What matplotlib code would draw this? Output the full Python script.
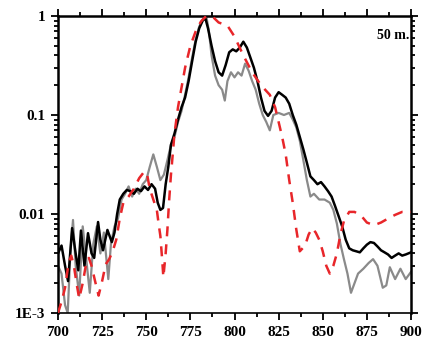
import matplotlib
matplotlib.use("Agg")
import matplotlib.pyplot as plt
from matplotlib.ticker import FixedLocator, FixedFormatter, LogLocator, NullFormatter, MultipleLocator

# ---- data ----
black_x = [700, 702, 704, 705.7, 708, 710, 711.5, 713, 715, 717, 719, 720.5, 722.7, 724, 725.5,
           728, 730.5, 732, 733.5, 735, 737, 739, 741, 743, 745, 747, 749, 751, 753, 755,
           756.5, 758, 759.5, 761, 762.5, 764, 766, 768, 770, 772, 774, 776, 778, 780, 782,
           783.5, 785, 787, 789, 791, 793, 795, 797, 799, 801, 803, 805, 807, 809, 811, 813,
           815, 817, 819, 821, 823, 825, 827, 829, 831, 833, 835, 837, 839, 841, 843, 845,
           847, 849, 851, 853, 855, 857, 859, 861, 863, 865, 867, 869, 871, 873, 875, 877,
           879, 881, 883, 885, 887, 889, 891, 893, 895, 897, 900]
black_y = [0.0040, 0.0048, 0.0030, 0.0021, 0.0072, 0.0040, 0.0027, 0.0068, 0.0030, 0.0064,
           0.0040, 0.0036, 0.0083, 0.0055, 0.0043, 0.0069, 0.0052, 0.0065, 0.0100, 0.0140,
           0.0160, 0.0175, 0.0170, 0.0160, 0.0180, 0.0170, 0.0190, 0.0175, 0.0200, 0.0180,
           0.0130, 0.0110, 0.0115, 0.0200, 0.0300, 0.0500, 0.0650, 0.0900, 0.1200, 0.1500,
           0.2200, 0.3500, 0.5500, 0.7500, 0.9000, 0.9500, 0.7500, 0.5000, 0.3500, 0.2700,
           0.2500, 0.3200, 0.4300, 0.4600, 0.4400, 0.4800, 0.5500, 0.4800, 0.3800, 0.3000,
           0.2200, 0.1500, 0.1100, 0.0980, 0.1100, 0.1500, 0.1700, 0.1600, 0.1500, 0.1300,
           0.1000, 0.0800, 0.0600, 0.0450, 0.0330, 0.0240, 0.0220, 0.0200, 0.0210, 0.0190,
           0.0170, 0.0150, 0.0120, 0.0095, 0.0075, 0.0055, 0.0045, 0.0043, 0.0042, 0.0041,
           0.0045, 0.0049, 0.0052, 0.0051, 0.0047, 0.0043, 0.0041, 0.0039, 0.0036, 0.0038,
           0.0040, 0.0038, 0.0039, 0.0041]

grey_x = [700, 702, 704, 705.5, 707, 708.5, 710, 712, 714, 716, 718, 720, 722, 724, 726,
          728.5, 730, 732, 734, 736, 738, 740, 742, 744, 746, 748, 750, 752, 754, 756, 758,
          760, 762, 764, 766, 768, 770, 772, 774, 776, 778, 780, 782, 784, 785.5, 787, 789,
          791, 793, 794.5, 796, 798, 800, 802, 804, 806, 808, 810, 812, 814, 816, 818, 820,
          822, 825, 828, 831, 833, 835, 837, 839, 841, 843, 845, 848, 851, 854, 856, 858,
          860, 862, 864, 866, 868, 870, 873, 876, 878.5, 881, 884, 886, 888, 891, 894, 897, 900]
grey_y = [0.0030, 0.0025, 0.0012, 0.0010, 0.0040, 0.0087, 0.0030, 0.0015, 0.0075, 0.0035,
          0.0016, 0.0050, 0.0075, 0.0040, 0.0065, 0.0022, 0.0050, 0.0075, 0.0090, 0.0140,
          0.0160, 0.0190, 0.0150, 0.0180, 0.0160, 0.0200, 0.0220, 0.0300, 0.0400, 0.0300,
          0.0220, 0.0250, 0.0350, 0.0500, 0.0600, 0.0850, 0.1100, 0.1600, 0.2400, 0.3800,
          0.5800, 0.7800, 0.9200, 1.0000, 0.7000, 0.4000, 0.2500, 0.2000, 0.1800, 0.1400,
          0.2200, 0.2700, 0.2400, 0.2700, 0.2500, 0.3300, 0.2800, 0.2200, 0.1800, 0.1300,
          0.1000, 0.0850, 0.0700, 0.1000, 0.1050, 0.1000, 0.1050, 0.0900, 0.0750, 0.0550,
          0.0350, 0.0220, 0.0150, 0.0160, 0.0140, 0.0140, 0.0130, 0.0110, 0.0080, 0.0050,
          0.0035, 0.0025, 0.0016, 0.0020, 0.0025, 0.0028, 0.0032, 0.0035, 0.0030, 0.0018,
          0.0019, 0.0029, 0.0022, 0.0028, 0.0022, 0.0026]

red_x = [700, 702, 704, 706, 707.5, 709, 710.5, 712, 714, 716, 717.5, 719, 721, 723, 725,
         727, 729, 731, 733, 735, 737, 740, 743, 746, 749, 750.5, 752, 754, 756, 757, 758,
         759, 759.7, 761, 762, 763, 764, 765, 766, 768, 770, 772, 775, 778, 781, 784, 788,
         791, 796, 800, 805, 810, 815, 820, 823, 825, 827, 829, 831, 833, 835, 837, 840,
         842, 844, 846, 848, 850, 852, 854, 856, 858, 860, 862, 865, 868, 872, 875, 879,
         883, 887, 891, 895, 900]
red_y = [0.0010, 0.0013, 0.0018, 0.0032, 0.0038, 0.0030, 0.0020, 0.0014, 0.0020, 0.0032,
         0.0036, 0.0030, 0.0021, 0.0015, 0.0021, 0.0031, 0.0035, 0.0042, 0.0055, 0.0090,
         0.0130, 0.0150, 0.0180, 0.0230, 0.0270, 0.0250, 0.0180, 0.0140, 0.0110, 0.0080,
         0.0060, 0.0035, 0.0023, 0.0040, 0.0070, 0.0140, 0.0250, 0.0400, 0.0650, 0.1200,
         0.1900, 0.3000, 0.5000, 0.7000, 0.8800, 1.0000, 0.9700, 0.8600, 0.8000, 0.6200,
         0.4000, 0.2700, 0.2000, 0.1600, 0.1200, 0.0850, 0.0600, 0.0400, 0.0220, 0.0130,
         0.0070, 0.0042, 0.0048, 0.0062, 0.0072, 0.0065, 0.0055, 0.0042, 0.0030, 0.0025,
         0.0030, 0.0040, 0.0062, 0.0085, 0.0105, 0.0105, 0.0095, 0.0082, 0.0077, 0.0082,
         0.0090, 0.0098, 0.0105, 0.0105]

x_ticks = [700, 725, 750, 775, 800, 825, 850, 875, 900]
y_ticks = [0.001, 0.01, 0.1, 1]
y_tick_labels = ["1E-3", "0.01", "0.1", "1"]
annotation = "50 m."

# ---- figure ----
W, H = 424, 341
fig = plt.figure(figsize=(W / 100, H / 100), dpi=100)
ax = fig.add_axes([58 / W, 1 - 313 / H, (411 - 58) / W, (313 - 16) / H])

serif = ["Liberation Serif", "DejaVu Serif"]

ax.plot(grey_x, grey_y, color="#8a8a8a", lw=1.6, zorder=2)
ax.plot(black_x, black_y, color="black", lw=1.8, zorder=3)
ax.plot(red_x, red_y, color="#e8262a", lw=1.8, ls=(0, (4, 3.2)), zorder=4)

ax.set_yscale("log")
ax.set_xlim(700, 900)
ax.set_ylim(0.001, 1)

ax.xaxis.set_major_locator(FixedLocator(x_ticks))
ax.xaxis.set_minor_locator(MultipleLocator(12.5))
ax.yaxis.set_major_locator(FixedLocator(y_ticks))
ax.yaxis.set_major_formatter(FixedFormatter(y_tick_labels))
ax.yaxis.set_minor_locator(LogLocator(base=10, subs=range(2, 10)))
ax.yaxis.set_minor_formatter(NullFormatter())

ax.tick_params(which="both", direction="out", top=True, right=True,
               labeltop=False, labelright=False, width=1.3, color="black")
ax.tick_params(which="major", length=5, pad=4)
ax.tick_params(which="minor", length=3)

for lbl in ax.get_xticklabels() + ax.get_yticklabels():
    lbl.set_fontfamily(serif)
    lbl.set_fontweight("bold")
    lbl.set_fontsize(11)

for s in ax.spines.values():
    s.set_linewidth(1.8)
ax.spines["bottom"].set_linewidth(1.2)

ax.text(0.995, 0.955, annotation, transform=ax.transAxes, ha="right", va="top",
        fontsize=10, fontweight="bold", family=serif)

fig.savefig("out.png", dpi=100)
